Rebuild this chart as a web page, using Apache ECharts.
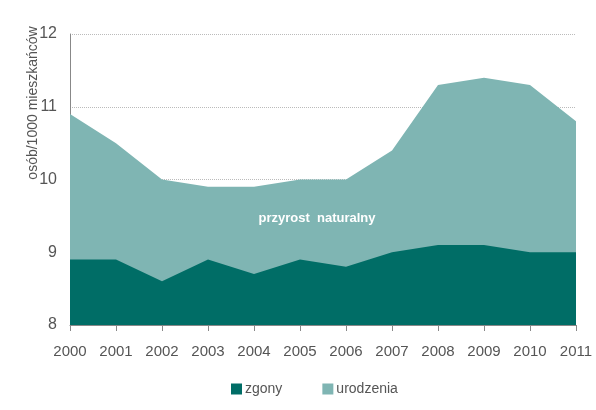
<!DOCTYPE html>
<html>
<head>
<meta charset="utf-8">
<script src="https://cdn.jsdelivr.net/npm/echarts@6/dist/echarts.min.js"></script>
<style>
  html, body { margin: 0; padding: 0; background: #fff; }
  #chart { width: 596px; height: 410px; }
</style>
</head>
<body>
<div id="chart"></div>
<script>
const years = ['2000', '2001', '2002', '2003', '2004', '2005', '2006', '2007', '2008', '2009', '2010', '2011'];
const zgony = [8.9, 8.9, 8.6, 8.9, 8.7, 8.9, 8.8, 9.0, 9.1, 9.1, 9.0, 9.0];
const urodzenia = [10.9, 10.5, 10.0, 9.9, 9.9, 10.0, 10.0, 10.4, 11.3, 11.4, 11.3, 10.8];

const font = '"Liberation Sans", Arial, sans-serif';
const chart = echarts.init(document.getElementById('chart'), null, { renderer: 'canvas' });

chart.setOption({
  animation: false,
  textStyle: { fontFamily: font },
  grid: { left: 70, right: 20, top: 34, bottom: 85 },
  legend: {
    top: 377,
    left: 226,
    icon: 'rect',
    itemWidth: 11,
    itemHeight: 11,
    itemGap: 40,
    textStyle: { fontFamily: font, fontSize: 14, color: '#555', padding: [0, 0, 0, -2] },
    data: ['zgony', 'urodzenia']
  },
  xAxis: {
    type: 'category',
    data: years,
    boundaryGap: false,
    axisLine: { show: true, lineStyle: { color: '#888' } },
    axisTick: { show: true, length: 6, interval: 0, lineStyle: { color: '#888' } },
    axisLabel: { color: '#555', fontSize: 15, margin: 19, interval: 0, fontFamily: font }
  },
  yAxis: {
    type: 'value',
    min: 8,
    max: 12,
    interval: 1,
    axisLine: { show: true, lineStyle: { color: '#888' } },
    axisTick: { show: false },
    axisLabel: { color: '#555', fontSize: 16, margin: 13, fontFamily: font },
    splitLine: { show: true, lineStyle: { color: '#bbb', type: 'dotted' } }
  },
  graphic: [
    {
      type: 'text',
      x: 33,
      y: 103,
      rotation: Math.PI / 2,
      z: 100,
      style: {
        text: 'osób/1000 mieszkańców',
        fill: '#555',
        font: '14px ' + font,
        align: 'center',
        verticalAlign: 'middle'
      }
    },
    {
      type: 'text',
      x: 317,
      y: 218,
      z: 100,
      style: {
        text: 'przyrost  naturalny',
        fill: '#fff',
        font: 'bold 13px ' + font,
        align: 'center',
        verticalAlign: 'middle'
      }
    }
  ],
  series: [
    {
      name: 'urodzenia',
      type: 'line',
      data: urodzenia,
      showSymbol: false,
      symbol: 'none',
      lineStyle: { width: 0 },
      itemStyle: { color: '#7fb5b3' },
      areaStyle: { color: '#7fb5b3', opacity: 1 }
    },
    {
      name: 'zgony',
      type: 'line',
      data: zgony,
      showSymbol: false,
      symbol: 'none',
      lineStyle: { width: 0 },
      itemStyle: { color: '#006d66' },
      areaStyle: { color: '#006d66', opacity: 1 }
    }
  ]
});
</script>
</body>
</html>
